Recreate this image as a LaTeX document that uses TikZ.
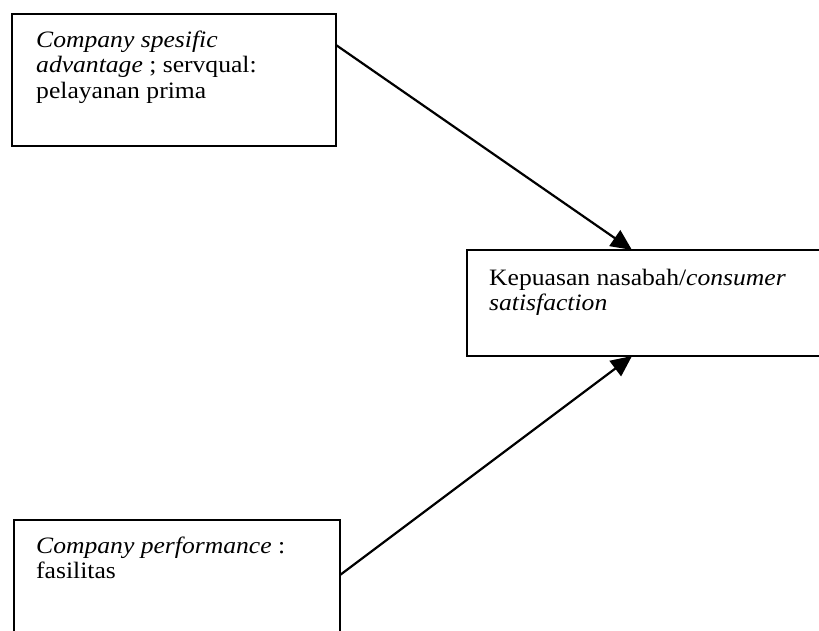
\documentclass[tikz,border=0pt]{standalone}
\usepackage{fontspec}
\setmainfont{Liberation Serif}[FakeStretch=1.09]
\usetikzlibrary{arrows.meta,calc}
\begin{document}
\begin{tikzpicture}[x=1pt,y=-1pt,
  boxshape/.style={draw,line width=2pt,rectangle,inner sep=0pt,outer sep=0pt,anchor=north west},
  boxtext/.style={anchor=north west,inner sep=0pt,align=left,font=\fontsize{23.5}{25.5}\selectfont},
  arr/.style={line width=2.2pt,-{Triangle[length=21pt,width=19pt]}}]
\useasboundingbox (0,0) rectangle (819,630);
\clip (0,0) rectangle (819,630);
\node[boxshape,minimum width=324pt,minimum height=132pt] (b1) at (12,14) {};
\node[boxshape,minimum width=400pt,minimum height=106pt] (b2) at (467,250) {};
\node[boxshape,minimum width=326pt,minimum height=150pt] (b3) at (14,520) {};
\node[boxtext] (t1) at ($(b1.north west)+(24,15)$) {\strut\textit{Company spesific}\\\textit{advantage} ; servqual:\\pelayanan prima};
\node[boxtext] (t2) at ($(b2.north west)+(22,17)$) {\strut Kepuasan nasabah/\textit{consumer}\\\textit{satisfaction}};
\node[boxtext] (t3) at ($(b3.north west)+(22,15)$) {\strut\textit{Company performance} :\\fasilitas};
\coordinate (s1) at ($(b1.north east)+(0,31)$);
\coordinate (e1) at ($(b2.north west)+(165,0)$);
\coordinate (s2) at ($(b3.north east)+(0,55)$);
\coordinate (e2) at ($(b2.south west)+(165,0)$);
\draw[arr] (s1) -- (e1);
\draw[arr] (s2) -- (e2);
\end{tikzpicture}
\end{document}
